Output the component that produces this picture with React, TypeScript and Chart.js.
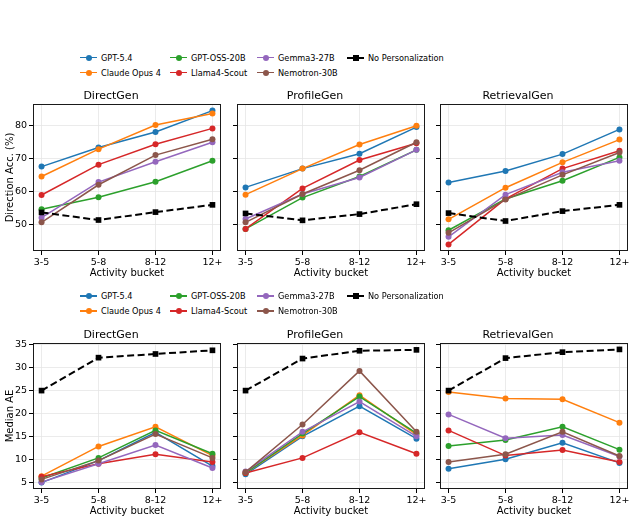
import React, { useEffect, useRef } from "react";
import { Chart, registerables } from "chart.js";

Chart.register(...registerables);

const FONT = "'DejaVu Sans', sans-serif";

const buckets = ["3-5", "5-8", "8-12", "12+"];
const models = [
  "GPT-5.4",
  "Claude Opus 4",
  "GPT-OSS-20B",
  "Llama4-Scout",
  "Gemma3-27B",
  "Nemotron-30B",
  "No Personalization",
];
const colors = ["#1f77b4", "#ff7f0e", "#2ca02c", "#d62728", "#9467bd", "#8c564b", "#000000"];

// Direction accuracy (%), one row per model in `models` order
const accDirectGen = [
  [67.5, 73.3, 78.0, 84.5],
  [64.5, 72.8, 80.1, 83.6],
  [54.6, 58.2, 62.9, 69.3],
  [58.9, 68.1, 74.3, 79.1],
  [52.0, 62.8, 69.0, 74.9],
  [50.6, 62.0, 71.0, 75.8],
  [53.6, 51.3, 53.7, 55.9],
];
const accProfileGen = [
  [61.2, 66.9, 71.4, 79.5],
  [59.0, 66.9, 74.2, 79.9],
  [48.6, 58.1, 64.5, 72.6],
  [48.6, 60.9, 69.5, 74.6],
  [51.6, 59.2, 64.2, 72.6],
  [50.6, 59.2, 66.4, 74.9],
  [53.3, 51.2, 53.1, 56.1],
];
const accRetrievalGen = [
  [62.7, 66.2, 71.3, 78.8],
  [51.5, 61.1, 68.8, 75.7],
  [48.2, 57.7, 63.2, 70.3],
  [43.9, 57.7, 66.9, 72.3],
  [46.2, 59.0, 65.8, 69.3],
  [47.4, 57.5, 65.0, 71.8],
  [53.4, 51.0, 54.0, 55.9],
];

// Median absolute error, one row per model in `models` order
const aeDirectGen = [
  [4.9, 9.7, 15.9, 8.5],
  [6.3, 12.8, 17.1, 10.8],
  [5.9, 10.3, 16.3, 11.2],
  [6.2, 9.0, 11.1, 9.4],
  [5.0, 9.0, 13.1, 8.1],
  [5.6, 9.7, 15.5, 10.3],
  [25.0, 32.2, 33.0, 33.8],
];
const aeProfileGen = [
  [6.7, 15.0, 21.6, 14.5],
  [7.0, 15.2, 24.0, 15.4],
  [7.0, 15.6, 23.7, 15.7],
  [7.0, 10.3, 15.9, 11.2],
  [7.3, 16.0, 22.6, 15.0],
  [7.2, 17.6, 29.3, 16.0],
  [25.0, 32.0, 33.7, 33.9],
];
const aeRetrievalGen = [
  [7.9, 10.0, 13.6, 9.2],
  [24.7, 23.3, 23.1, 18.0],
  [12.9, 14.2, 17.1, 12.1],
  [16.3, 10.8, 12.0, 9.4],
  [19.8, 14.6, 15.3, 10.6],
  [9.4, 11.1, 16.0, 10.7],
  [25.0, 32.1, 33.4, 34.0],
];

const accTicks = [50, 60, 70, 80];
const accRange = [41.9, 86.5];
const aeTicks = [5, 10, 15, 20, 25, 30, 35];
const aeRange = [3.5, 35.4];

// layout (px)
const PLOT_W = 189;
const Y_W = 33;
const TITLE_H = 22;
const X_H = 32;
const RIGHT_PAD = 3;
const PANEL_LEFTS = [33, 237, 440];
const GRID = "#e6e6e6";

const framePlugin = {
  id: "frame",
  afterDatasetsDraw(chart: any) {
    const { ctx, chartArea: a } = chart;
    ctx.save();
    ctx.strokeStyle = "#1a1a1a";
    ctx.lineWidth = 1;
    ctx.strokeRect(a.left + 0.5, a.top + 0.5, a.right - a.left - 1, a.bottom - a.top - 1);
    ctx.restore();
  },
};

type PanelProps = {
  title: string;
  rows: number[][];
  range: number[];
  ticks: number[];
  yTitle?: string;
  left: number;
  top: number;
  plotH: number;
};

function Panel(p: PanelProps) {
  const ref = useRef<HTMLCanvasElement>(null);
  const width = Y_W + PLOT_W + RIGHT_PAD;
  const height = TITLE_H + p.plotH + X_H;

  useEffect(() => {
    const chart = new Chart(ref.current as HTMLCanvasElement, {
      type: "line",
      data: {
        datasets: models.map((name, i) => {
          const base = i === models.length - 1;
          return {
            label: name,
            data: p.rows[i].map((y, j) => ({ x: j, y })),
            borderColor: colors[i],
            backgroundColor: colors[i],
            borderWidth: base ? 2 : 1.5,
            borderDash: base ? [7, 3.5] : [],
            pointStyle: base ? "rect" : "circle",
            pointRadius: base ? 4 : 3,
            pointBorderWidth: 0,
            pointBackgroundColor: colors[i],
            tension: 0,
            order: models.length - i,
          };
        }),
      },
      options: {
        animation: false,
        responsive: false,
        devicePixelRatio: 1,
        layout: { padding: { left: 0, right: RIGHT_PAD, top: 0, bottom: 0 } },
        plugins: {
          legend: { display: false },
          tooltip: { enabled: false },
          title: {
            display: true,
            text: p.title,
            color: "#000",
            font: { family: FONT, size: 11, weight: "normal", lineHeight: 1.2 },
            padding: { top: 7.4, bottom: 1.4 },
          },
        },
        scales: {
          x: {
            type: "linear",
            min: -0.15,
            max: 3.15,
            bounds: "data",
            afterBuildTicks: (s: any) => {
              s.ticks = buckets.map((_, i) => ({ value: i }));
            },
            afterFit: (s: any) => {
              s.height = X_H;
            },
            ticks: {
              callback: (v: any) => buckets[v as number] ?? "",
              color: "#000",
              font: { family: FONT, size: 9.5 },
              padding: 1.5,
              maxRotation: 0,
              autoSkip: false,
            },
            grid: { color: GRID, lineWidth: 0.8, tickLength: 4, tickColor: "#000", tickWidth: 1 },
            border: { display: false },
            title: {
              display: true,
              text: "Activity bucket",
              color: "#000",
              font: { family: FONT, size: 10 },
              padding: { top: 0, bottom: 4 },
            },
          },
          y: {
            type: "linear",
            min: p.range[0],
            max: p.range[1],
            bounds: "data",
            afterBuildTicks: (s: any) => {
              s.ticks = p.ticks.map((v) => ({ value: v }));
            },
            afterFit: (s: any) => {
              s.width = Y_W;
            },
            ticks: {
              display: !!p.yTitle,
              color: "#000",
              font: { family: FONT, size: 9.5 },
              padding: 2,
            },
            grid: { color: GRID, lineWidth: 0.8, tickLength: 4, tickColor: "#000", tickWidth: 1 },
            border: { display: false },
            title: {
              display: !!p.yTitle,
              text: p.yTitle || "",
              color: "#000",
              font: { family: FONT, size: 10 },
              padding: { top: 4.5, bottom: 0 },
            },
          },
        },
      } as any,
      plugins: [framePlugin],
    });
    return () => chart.destroy();
  }, []);

  return (
    <canvas
      ref={ref}
      width={width}
      height={height}
      style={{ position: "absolute", left: p.left - Y_W, top: p.top - TITLE_H, width, height }}
    />
  );
}

// legend columns hold model indices, filled column by column
const legendCols = [[0, 1], [2, 3], [4, 5], [6]];
const legendColX = [80, 170, 257, 347];

function LegendSample({ i }: { i: number }) {
  const c = colors[i];
  const base = i === models.length - 1;
  return (
    <div style={{ position: "relative", width: 17, height: 12, flex: "none" }}>
      {base ? (
        <>
          <div style={{ position: "absolute", left: 0, top: 5, width: 6, height: 2, background: c }} />
          <div style={{ position: "absolute", left: 11, top: 5, width: 6, height: 2, background: c }} />
          <div style={{ position: "absolute", left: 5.5, top: 3, width: 6, height: 6, background: c }} />
        </>
      ) : (
        <>
          <div style={{ position: "absolute", left: 0, top: 5.25, width: 17, height: 1.5, background: c }} />
          <div
            style={{
              position: "absolute",
              left: 5.5,
              top: 3,
              width: 6,
              height: 6,
              borderRadius: "50%",
              background: c,
            }}
          />
        </>
      )}
    </div>
  );
}

function Legend({ y }: { y: number }) {
  return (
    <>
      {legendCols.map((col, ci) =>
        col.map((mi, ri) => (
          <div
            key={mi}
            style={{
              position: "absolute",
              left: legendColX[ci],
              top: y + ri * 15 - 6,
              height: 12,
              display: "flex",
              alignItems: "center",
              whiteSpace: "nowrap",
              fontFamily: FONT,
              fontSize: 8.2,
              color: "#000",
            }}
          >
            <LegendSample i={mi} />
            <span style={{ marginLeft: 4, lineHeight: "12px" }}>{models[mi]}</span>
          </div>
        ))
      )}
    </>
  );
}

const panelTitles = ["DirectGen", "ProfileGen", "RetrievalGen"];
const accRows = [accDirectGen, accProfileGen, accRetrievalGen];
const aeRows = [aeDirectGen, aeProfileGen, aeRetrievalGen];

export default function App() {
  return (
    <div
      style={{
        position: "absolute",
        left: 0,
        top: 0,
        width: 636,
        height: 522,
        background: "#fff",
        overflow: "hidden",
      }}
    >
      <Legend y={57.5} />
      {panelTitles.map((t, k) => (
        <Panel
          key={"acc" + t}
          title={t}
          rows={accRows[k]}
          range={accRange}
          ticks={accTicks}
          yTitle={k === 0 ? "Direction Acc. (%)" : undefined}
          left={PANEL_LEFTS[k]}
          top={104}
          plotH={147}
        />
      ))}
      <Legend y={296} />
      {panelTitles.map((t, k) => (
        <Panel
          key={"ae" + t}
          title={t}
          rows={aeRows[k]}
          range={aeRange}
          ticks={aeTicks}
          yTitle={k === 0 ? "Median AE" : undefined}
          left={PANEL_LEFTS[k]}
          top={343}
          plotH={146}
        />
      ))}
    </div>
  );
}
